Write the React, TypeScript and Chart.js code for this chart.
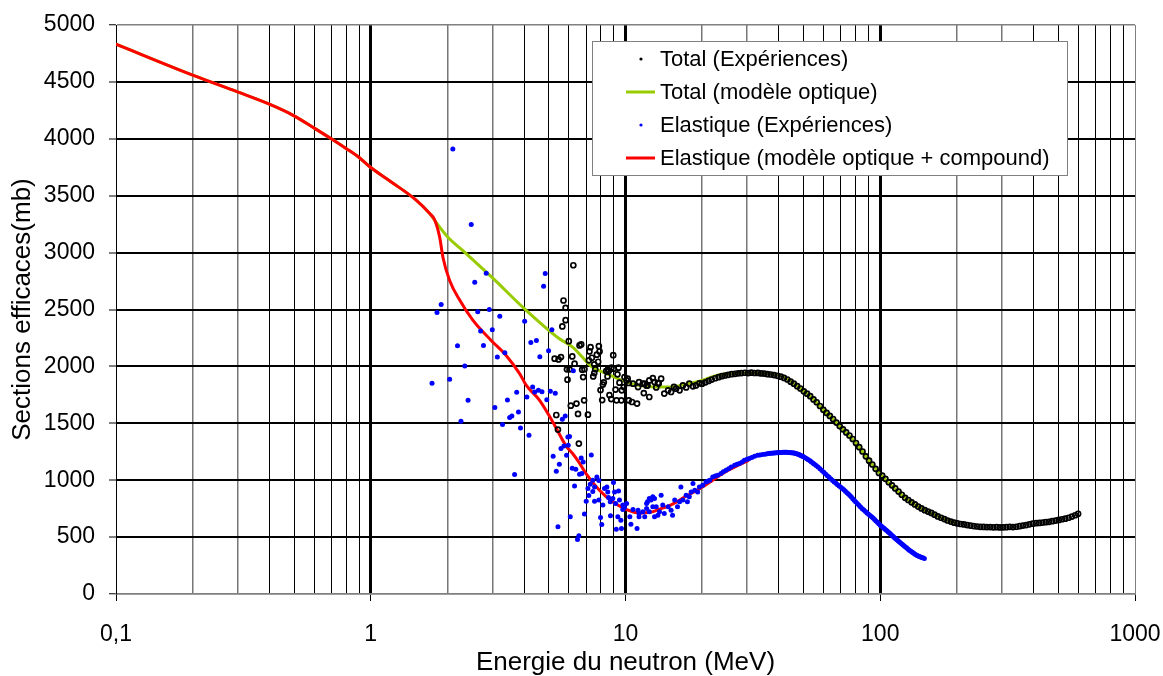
import React, { useEffect, useRef } from "react";
import { Chart, registerables } from "chart.js";

Chart.register(...registerables);

// ---- Data (energy in MeV, cross-section in mb) ----
const xMin = 0.1;
const xMax = 1000;
const yMin = 0;
const yMax = 5000;
const yStep = 500;

const legendLabels = [
  "Total (Expériences)",
  "Total (modèle optique)",
  "Elastique (Expériences)",
  "Elastique (modèle optique + compound)",
];

const xTitle = "Energie du neutron (MeV)";
const yTitle = "Sections efficaces(mb)";

// Total cross-section, experiments (scattered region)
const totalExpLow: [number, number][] = [
  [6.24, 2889], [5.71, 2579], [5.82, 2515], [5.82, 2406], [5.65, 2351], [5.99, 2222],
  [6.6, 2184], [6.7, 2193], [7.29, 2169], [7.86, 2178], [7.22, 2132], [7.91, 2132],
  [5.27, 2068], [5.46, 2061], [5.58, 2082], [6.18, 2088], [7.38, 2076], [7.72, 2103],
  [8.95, 2099], [7.18, 2053], [7.81, 2041], [6.31, 2024], [7.54, 2018], [5.89, 1974],
  [6.03, 1974], [6.76, 1971], [6.9, 1976], [7.61, 1976], [8.52, 1971], [8.81, 1989],
  [9.0, 1980], [9.39, 1989], [8.4, 1959], [8.6, 1959], [7.54, 1941], [6.82, 1906],
  [7.47, 1912], [8.5, 1912], [9.3, 1930], [5.92, 1883], [8.22, 1860], [8.15, 1840],
  [9.47, 1857], [9.91, 1906], [10.1, 1877], [10.2, 1892], [10.3, 1854], [9.85, 1818],
  [7.98, 1792], [9.14, 1796], [9.67, 1790], [8.65, 1748], [8.1, 1704], [8.79, 1713],
  [9.22, 1702], [9.63, 1702], [10.3, 1702], [10.6, 1687], [11.1, 1673], [6.42, 1673],
  [6.1, 1655], [6.88, 1702], [6.51, 1582], [7.12, 1576], [5.35, 1573], [10.7, 1848],
  [11.2, 1818], [11.9, 1848], [12.2, 1833], [12.4, 1877], [12.8, 1897], [13.0, 1862],
  [13.4, 1854], [11.8, 1766], [12.4, 1731], [5.43, 1445], [6.56, 1322],
  [11.3, 1862], [11.7, 1848], [12.1, 1830], [13.2, 1815], [13.5, 1850], [13.8, 1892],
  [14.2, 1761], [14.7, 1790], [15.1, 1775], [15.5, 1820], [15.8, 1804], [16.3, 1790],
  [16.8, 1833], [17.3, 1815], [17.8, 1848], [18.4, 1825], [18.9, 1833], [19.5, 1850],
];

// Total cross-section, experiments (dense region)
const totalExpHigh: [number, number][] = [
  [20.0, 1848], [20.6, 1860], [21.2, 1872], [21.8, 1884], [22.5, 1896], [23.2, 1905],
  [23.9, 1914], [24.6, 1920], [25.3, 1926], [26.1, 1932], [26.9, 1935], [27.7, 1939],
  [28.5, 1941], [29.4, 1944], [30.3, 1941], [31.2, 1945], [32.1, 1942], [33.1, 1943],
  [34.1, 1938], [35.1, 1937], [36.1, 1932], [37.2, 1929], [38.3, 1924], [39.5, 1917],
  [40.7, 1910], [41.9, 1899], [43.2, 1885], [44.5, 1866], [45.8, 1848], [47.2, 1826],
  [48.6, 1806], [50.1, 1781], [51.6, 1760], [53.1, 1738], [54.7, 1710], [56.3, 1685],
  [58.0, 1652], [59.8, 1618], [61.6, 1591], [63.4, 1565], [65.3, 1538], [67.3, 1506],
  [69.3, 1476], [71.4, 1447], [73.5, 1420], [75.7, 1393], [78.0, 1362], [80.3, 1327],
  [82.7, 1290], [85.2, 1252], [87.8, 1210], [90.4, 1172], [93.1, 1138], [95.9, 1100],
  [98.8, 1064], [101.8, 1040], [104.8, 1012], [108.0, 982], [111.2, 955], [114.5, 928],
  [118.0, 900], [121.5, 872], [125.2, 845], [128.9, 826], [132.8, 806], [136.8, 787],
  [140.9, 768], [145.1, 752], [149.5, 737], [154.0, 724], [158.6, 712], [163.3, 697],
  [168.2, 682], [173.3, 670], [178.5, 658], [183.8, 646], [189.3, 636], [195.0, 627],
  [200.9, 620], [206.9, 615], [213.1, 611], [219.5, 606], [226.1, 601], [232.9, 597],
  [239.9, 593], [247.1, 590], [254.5, 589], [262.1, 588], [270.0, 588], [278.1, 586],
  [286.4, 587], [295.0, 585], [303.9, 586], [313.0, 587], [322.4, 590], [332.1, 588],
  [342.0, 591], [352.3, 596], [362.9, 601], [373.8, 606], [385.0, 612], [396.5, 618],
  [408.4, 622], [420.7, 625], [433.3, 628], [446.3, 631], [459.7, 634], [473.5, 640],
  [487.7, 645], [502.3, 651], [517.4, 657], [532.9, 662], [548.9, 670], [565.4, 680],
  [582.4, 692], [598.0, 705],
];

// Total cross-section, optical model
const totalModel: [number, number][] = [
  [0.1, 4831], [0.2, 4559], [0.3, 4412], [0.4, 4304], [0.5, 4202], [0.6, 4094],
  [0.7, 4000], [0.8, 3915], [0.9, 3836], [1.0, 3748], [1.2, 3623], [1.5, 3465],
  [1.7, 3345], [1.8, 3270], [2.0, 3140], [2.3, 3017], [3.0, 2780], [4.0, 2509],
  [5.5, 2243], [6.2, 2170], [7.4, 1994], [8.4, 1939], [10.1, 1862], [11.35, 1833],
  [13.6, 1819], [14.9, 1819], [17, 1840], [20, 1877], [22.8, 1921], [28, 1941],
  [33.4, 1943], [40, 1925], [44, 1877], [50, 1785], [55, 1705], [60, 1614],
  [65, 1541], [70, 1465], [80, 1330], [90, 1180], [100, 1055], [120, 880],
  [140, 770], [160, 708], [180, 655], [200, 622],
];

// Elastic cross-section, experiments
const elasticExp: [number, number][] = [
  [2.1, 3910], [2.48, 3246], [2.84, 2818], [2.56, 2740], [4.84, 2816], [4.77, 2705],
  [1.89, 2544], [1.82, 2474], [2.63, 2480], [2.92, 2500], [3.21, 2441], [4.02, 2397],
  [2.7, 2310], [3.0, 2322], [5.14, 2322], [4.47, 2228], [2.19, 2182], [2.77, 2184],
  [4.25, 2211], [4.99, 2138], [4.61, 2085], [3.14, 2082], [3.36, 2120], [2.34, 2003],
  [1.74, 1851], [2.04, 1886], [2.41, 1702], [2.26, 1518], [3.07, 1638], [3.44, 1704],
  [3.74, 1772], [4.1, 1731], [4.32, 1818], [4.4, 1775], [4.55, 1790], [4.7, 1778],
  [4.91, 1708], [5.07, 1781], [5.3, 1763], [3.8, 1599], [3.58, 1564], [3.51, 1550],
  [3.29, 1489], [3.87, 1459], [4.18, 1395], [5.8, 1564], [5.65, 1535], [5.94, 1380],
  [5.73, 1301], [5.58, 1278], [5.87, 1219], [5.2, 1211], [5.5, 1140], [5.35, 1079],
  [3.67, 1050], [6.24, 1962], [6.03, 1383], [5.96, 1307], [6.18, 1105], [6.38, 1097],
  [6.7, 1196], [6.82, 1161], [7.34, 1222], [6.6, 1053], [6.74, 1059], [6.31, 950],
  [7.44, 1000], [7.72, 1029], [7.86, 997], [7.27, 965], [7.12, 927], [7.56, 941],
  [7.44, 901], [7.18, 866], [7.01, 816], [7.56, 816], [7.86, 825], [8.15, 781],
  [8.27, 927], [8.45, 941], [8.52, 897], [8.97, 980], [9.39, 904], [9.06, 897],
  [8.92, 839], [8.71, 810], [8.58, 848], [9.47, 825], [9.14, 796], [9.76, 781],
  [10.1, 796], [9.91, 761], [9.76, 743], [6.9, 704], [6.07, 678], [7.98, 673],
  [8.73, 687], [9.33, 678], [9.59, 649], [10.4, 678], [10.7, 743], [11.2, 737],
  [11.3, 678], [8.07, 611], [10.5, 614], [9.2, 568], [9.64, 576], [11.1, 576],
  [5.43, 590], [6.56, 511], [6.48, 480], [11.7, 722], [12.1, 752], [12.2, 810],
  [12.6, 825], [13.0, 839], [12.8, 766], [12.4, 722], [11.9, 678], [13.2, 766],
  [13.4, 693], [13.0, 678], [11.3, 708], [12.1, 796], [12.4, 839], [12.8, 854],
  [13.6, 722], [14.0, 781], [13.8, 868], [14.2, 708], [14.7, 766], [15.1, 737],
  [15.3, 693], [15.6, 825], [16.0, 766], [16.3, 810], [16.5, 941], [16.8, 825],
  [17.3, 868], [17.5, 810], [17.8, 854], [18.1, 897], [18.4, 971], [18.7, 912],
  [19.2, 897], [19.5, 941], [20.1, 956], [20.7, 985], [21.0, 990], [21.4, 1000],
  [22.0, 1029], [22.5, 1037], [23.0, 1044], [23.7, 1059], [24.2, 1075], [24.8, 1088],
  [25.4, 1100], [26.0, 1117], [26.8, 1132], [27.4, 1140], [28.0, 1147], [28.7, 1160],
  [29.3, 1175], [30.0, 1183], [30.6, 1190], [31.3, 1200], [32.1, 1211], [33.0, 1219],
  [33.7, 1222], [34.5, 1225], [35.3, 1229], [36, 1232], [36.5, 1234], [37, 1236],
  [37.5, 1237], [38, 1238], [38.5, 1240], [39, 1241], [39.5, 1242], [40, 1243],
  [40.5, 1243], [41, 1244], [41.5, 1245], [42, 1245], [42.5, 1245], [43, 1245],
  [43.5, 1244], [44, 1243], [44.5, 1242], [45, 1241], [45.5, 1240], [46, 1238],
  [46.5, 1235], [47, 1232], [47.5, 1229], [48, 1225], [48.5, 1220], [49, 1215],
  [49.5, 1210], [50, 1205], [50.7, 1197], [51.5, 1188], [52.2, 1179], [53, 1170],
  [53.7, 1160], [54.5, 1150], [55.2, 1140], [56, 1130], [57, 1115], [58, 1100],
  [59, 1085], [60, 1070], [61, 1055], [62, 1040], [63, 1025], [64, 1010], [65, 998],
  [66, 985], [67, 973], [68, 960], [69, 948], [70, 937], [71, 926], [72, 915],
  [73, 902], [74, 890], [75, 878], [76, 865], [77, 852], [78, 838], [79, 824],
  [80, 810], [81.2, 795], [82.5, 780], [83.7, 765], [85, 750], [86.2, 738],
  [87.5, 725], [88.7, 712], [90, 700], [91.2, 689], [92.5, 678], [93.7, 667],
  [95, 655], [96.2, 642], [97.5, 630], [98.7, 617], [100, 605], [101.2, 595],
  [102.5, 585], [103.7, 575], [105, 565], [106.2, 555], [107.5, 545], [108.7, 535],
  [110, 525], [111.2, 515], [112.5, 505], [113.7, 495], [115, 485], [116.2, 476],
  [117.5, 468], [118.7, 459], [120, 450], [121.5, 440], [123, 430], [124.5, 420],
  [126, 410], [127.5, 401], [129, 392], [130.5, 383], [132, 375], [133.5, 367],
  [135, 360], [136.5, 352], [138, 345], [139.5, 339], [141, 334], [142.5, 329],
  [144, 325], [145.5, 321], [147, 318], [149, 312],
];

// Elastic cross-section, optical model + compound
const elasticModel: [number, number][] = [
  [0.1, 4831], [0.2, 4559], [0.3, 4412], [0.4, 4304], [0.5, 4202], [0.6, 4094],
  [0.7, 4000], [0.8, 3915], [0.9, 3836], [1.0, 3748], [1.2, 3623], [1.5, 3465],
  [1.7, 3345], [1.78, 3290], [1.865, 3134], [1.92, 2959], [2.04, 2754], [2.24, 2579],
  [2.52, 2404], [2.97, 2228], [3.4, 2096], [3.84, 1936], [4.08, 1833], [4.6, 1702],
  [5.19, 1510], [5.85, 1300], [6.2, 1235], [6.6, 1150], [7.0, 1058], [7.9, 912],
  [8.9, 810], [10.05, 745], [11.3, 712], [12.5, 718], [13.6, 745], [15.3, 790],
  [17, 850], [19.5, 924], [22, 1000], [24, 1058], [27, 1120], [30.5, 1175],
];

const toXY = (arr: [number, number][]) => arr.map(([x, y]) => ({ x, y }));

const FONT = '"Liberation Sans", Arial, sans-serif';

const isDecade = (v: number) => {
  const l = Math.log10(v);
  return Math.abs(l - Math.round(l)) < 1e-6;
};

const mantissa = (v: number) =>
  Math.round(v / Math.pow(10, Math.floor(Math.log10(v) + 1e-9)));

const legendPlugin = {
  id: "boxLegend",
  afterDraw(chart: any) {
    const ctx = chart.ctx;
    const a = chart.chartArea;
    const bx = a.left + 476;
    const by = a.top + 16;
    const bw = 475;
    const bh = 134;
    ctx.save();
    ctx.fillStyle = "#ffffff";
    ctx.fillRect(bx, by, bw, bh);
    ctx.strokeStyle = "#808080";
    ctx.lineWidth = 1;
    ctx.strokeRect(bx + 0.5, by + 0.5, bw, bh);
    const items = [
      { kind: "dot", color: "#000000" },
      { kind: "line", color: "#99CC00" },
      { kind: "dot", color: "#0000FF" },
      { kind: "line", color: "#FF0000" },
    ];
    ctx.font = `22px ${FONT}`;
    ctx.textBaseline = "middle";
    ctx.textAlign = "left";
    items.forEach((it, i) => {
      const cy = by + 18 + i * 33;
      if (it.kind === "line") {
        ctx.strokeStyle = it.color;
        ctx.lineWidth = 3;
        ctx.beginPath();
        ctx.moveTo(bx + 34, cy);
        ctx.lineTo(bx + 63, cy);
        ctx.stroke();
      } else {
        ctx.fillStyle = it.color;
        ctx.beginPath();
        ctx.arc(bx + 49, cy, 1.6, 0, Math.PI * 2);
        ctx.fill();
      }
      ctx.fillStyle = "#000000";
      ctx.fillText(legendLabels[i], bx + 68, cy + 1);
    });
    ctx.restore();
  },
};

export default function App() {
  const ref = useRef<HTMLCanvasElement | null>(null);

  useEffect(() => {
    if (!ref.current) return;
    const chart = new Chart(ref.current, {
      type: "scatter",
      data: {
        datasets: [
          {
            label: legendLabels[2],
            data: toXY(elasticExp),
            pointRadius: 2.5,
            pointBackgroundColor: "#0000FF",
            pointBorderWidth: 0,
            borderColor: "#0000FF",
            backgroundColor: "#0000FF",
            showLine: false,
            order: 0,
          },
          {
            label: legendLabels[0],
            data: toXY([...totalExpLow, ...totalExpHigh]),
            pointRadius: 2.5,
            pointBorderWidth: 1.7,
            pointBorderColor: "#000000",
            pointBackgroundColor: "rgba(0,0,0,0)",
            borderColor: "#000000",
            backgroundColor: "rgba(0,0,0,0)",
            showLine: false,
            order: 1,
          },
          {
            label: legendLabels[3],
            data: toXY(elasticModel),
            showLine: true,
            borderColor: "#FF0000",
            backgroundColor: "#FF0000",
            borderWidth: 3,
            pointRadius: 0,
            cubicInterpolationMode: "monotone",
            order: 2,
          },
          {
            label: legendLabels[1],
            data: toXY(totalModel),
            showLine: true,
            borderColor: "#99CC00",
            backgroundColor: "#99CC00",
            borderWidth: 3,
            pointRadius: 0,
            cubicInterpolationMode: "monotone",
            order: 3,
          },
        ],
      },
      options: {
        animation: false,
        responsive: false,
        devicePixelRatio: 1,
        events: [],
        layout: { padding: { top: 25, right: 28, bottom: 0, left: 0 } },
        plugins: {
          legend: { display: false },
          tooltip: { enabled: false },
        },
        scales: {
          x: {
            type: "logarithmic",
            min: xMin,
            max: xMax,
            afterBuildTicks: (scale: any) => {
              const t: any[] = [];
              for (let e = -1; e <= 2; e++) {
                for (let m = 1; m <= 9; m++) {
                  const v = parseFloat((m * Math.pow(10, e)).toPrecision(6));
                  t.push({ value: v, major: m === 1 });
                }
              }
              t.push({ value: xMax, major: true });
              scale.ticks = t;
            },
            afterFit: (scale: any) => {
              scale.height = 82;
              scale.paddingLeft = 0;
              scale.paddingRight = 0;
            },
            ticks: {
              autoSkip: false,
              maxRotation: 0,
              minRotation: 0,
              padding: 20,
              color: "#000",
              font: { family: FONT, size: 23 },
              callback: (value: any) => {
                const v = Number(value);
                if (!isDecade(v)) return "";
                return v < 1 ? String(v).replace(".", ",") : String(v);
              },
            },
            grid: {
              color: (ctx: any) => {
                const v = ctx.tick ? ctx.tick.value : 0;
                if (v >= xMax) return "#808080";
                if (isDecade(v)) return "#000000";
                const m = mantissa(v);
                return m === 2 || m === 3 ? "#777777" : "#000000";
              },
              lineWidth: (ctx: any) => {
                const v = ctx.tick ? ctx.tick.value : 0;
                if (v <= xMin || v >= xMax) return 1;
                if (isDecade(v)) return 3;
                const m = mantissa(v);
                return m === 2 || m === 3 ? 1.5 : 1;
              },
              tickColor: (ctx: any) => {
                const v = ctx.tick ? ctx.tick.value : 0;
                return isDecade(v) ? "#000000" : "rgba(0,0,0,0)";
              },
              tickWidth: 1,
              tickLength: 7,
            },
            border: { display: true, color: "#808080", width: 1.5 },
            title: {
              display: true,
              text: xTitle,
              color: "#000",
              font: { family: FONT, size: 26, lineHeight: 1 },
              padding: { top: 0, bottom: 0 },
            },
          },
          y: {
            type: "linear",
            min: yMin,
            max: yMax,
            afterFit: (scale: any) => {
              scale.width = 116;
              scale.paddingTop = 0;
              scale.paddingBottom = 0;
            },
            ticks: {
              stepSize: yStep,
              padding: 14,
              color: "#000",
              font: { family: FONT, size: 23 },
              callback: (value: any) => String(value),
            },
            grid: {
              color: (ctx: any) => {
                const v = ctx.tick ? ctx.tick.value : 0;
                return v >= yMax || v <= yMin ? "#808080" : "#000000";
              },
              lineWidth: (ctx: any) => {
                const v = ctx.tick ? ctx.tick.value : 0;
                return v >= yMax || v <= yMin ? 1.5 : 2;
              },
              tickColor: "#000000",
              tickWidth: 1,
              tickLength: 7,
            },
            border: { display: true, color: "#000000", width: 1 },
            title: {
              display: true,
              text: yTitle,
              color: "#000",
              font: { family: FONT, size: 26, lineHeight: 1 },
              padding: { top: 10, bottom: 0 },
            },
          },
        },
      },
      plugins: [legendPlugin],
    } as any);
    return () => chart.destroy();
  }, []);

  return (
    <div style={{ position: "absolute", left: 0, top: 0, width: 1163, height: 676, background: "#fff" }}>
      <style>{`body{margin:0;}`}</style>
      <canvas ref={ref} width={1163} height={676} style={{ display: "block" }} />
    </div>
  );
}
